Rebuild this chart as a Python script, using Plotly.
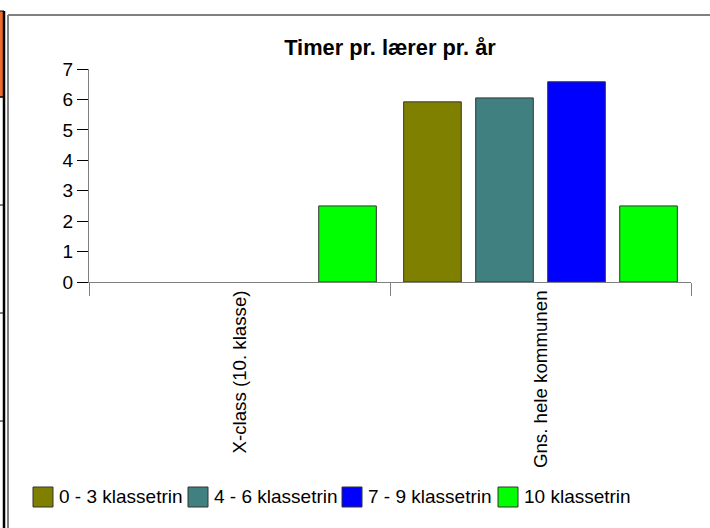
import plotly.graph_objects as go

categories = ["X-class (10. klasse)", "Gns. hele kommunen"]
series_names = ["0 - 3 klassetrin", "4 - 6 klassetrin", "7 - 9 klassetrin", "10 klassetrin"]
values_0_3 = [None, 5.92]
values_4_6 = [None, 6.05]
values_7_9 = [None, 6.58]
values_10 = [2.5, 2.5]
series_values = [values_0_3, values_4_6, values_7_9, values_10]
colors = ["#808000", "#408080", "#0000FF", "#00FF00"]
y_ticks = [0, 1, 2, 3, 4, 5, 6, 7]
title_text = "Timer pr. lærer pr. år"

FONT = "Arial, Liberation Sans, sans-serif"
W, H = 710, 528
ML, MR, MT, MB = 89, 19, 69, 246
PW = W - ML - MR
PH = H - MT - MB


def xp(px):
    return (px - ML) / PW


def yp(py):
    return (H - MB - py) / PH


fig = go.Figure()
for name, vals, col in zip(series_names, series_values, colors):
    fig.add_trace(go.Bar(
        x=categories, y=vals, name=name,
        marker=dict(color=col, line=dict(color="#333333", width=1)),
        showlegend=False,
    ))

shapes = []
annotations = []
# manual legend
leg_x = [33, 188, 342, 498]
for lx, name, col in zip(leg_x, series_names, colors):
    shapes.append(dict(type="rect", xref="paper", yref="paper",
                       x0=xp(lx), x1=xp(lx + 20), y0=yp(507), y1=yp(487),
                       fillcolor=col, line=dict(color="#333333", width=1)))
    annotations.append(dict(text=name, xref="paper", yref="paper",
                            x=xp(lx + 24), y=yp(497), xanchor="left", yanchor="middle",
                            showarrow=False, font=dict(family=FONT, size=19, color="#000000")))

# surrounding frame / page artifacts
shapes.append(dict(type="line", xref="paper", yref="paper",
                   x0=xp(8), x1=xp(712), y0=yp(15), y1=yp(15),
                   line=dict(color="#808080", width=2)))
shapes.append(dict(type="line", xref="paper", yref="paper",
                   x0=xp(8), x1=xp(8), y0=yp(15), y1=yp(530),
                   line=dict(color="#808080", width=2)))
shapes.append(dict(type="rect", xref="paper", yref="paper",
                   x0=xp(-1), x1=xp(4), y0=yp(97), y1=yp(11),
                   fillcolor="#EE6A2C", line=dict(color="#000000", width=1)))
shapes.append(dict(type="line", xref="paper", yref="paper",
                   x0=xp(4), x1=xp(4), y0=yp(11), y1=yp(530),
                   line=dict(color="#000000", width=2.5)))
for ty in [97, 205, 313, 421]:
    shapes.append(dict(type="line", xref="paper", yref="paper",
                       x0=xp(0), x1=xp(4), y0=yp(ty), y1=yp(ty),
                       line=dict(color="#000000", width=1)))

fig.update_layout(
    width=W, height=H,
    margin=dict(l=ML, r=MR, t=MT, b=MB, pad=0),
    paper_bgcolor="#FFFFFF", plot_bgcolor="#FFFFFF",
    barmode="group", bargap=0.043, bargroupgap=0.2,
    font=dict(family=FONT, size=18, color="#000000"),
    title=dict(text="<b>" + title_text + "</b>", x=0.5, xref="paper",
               y=1 - 47 / H, yref="container", yanchor="middle", xanchor="center",
               font=dict(family=FONT, size=21.8, color="#000000")),
    shapes=shapes, annotations=annotations,
)
fig.update_yaxes(range=[0, 7], tickvals=y_ticks, showgrid=False, zeroline=False,
                 showline=True, linecolor="#808080", linewidth=1,
                 ticks="outside", ticklen=11, tickcolor="#000000", tickwidth=1,
                 tickfont=dict(family=FONT, size=19, color="#000000"),
                 ticklabelstandoff=0)
fig.update_xaxes(showgrid=False, zeroline=False, showline=True, linecolor="#808080",
                 linewidth=1, ticks="outside", tickson="boundaries", ticklen=13,
                 tickcolor="#808080", tickwidth=1, tickangle=-90,
                 tickfont=dict(family=FONT, size=18.7, color="#000000"))

fig.write_html("out.html", config={"displayModeBar": False},
               post_script="document.body.style.margin='0';")
